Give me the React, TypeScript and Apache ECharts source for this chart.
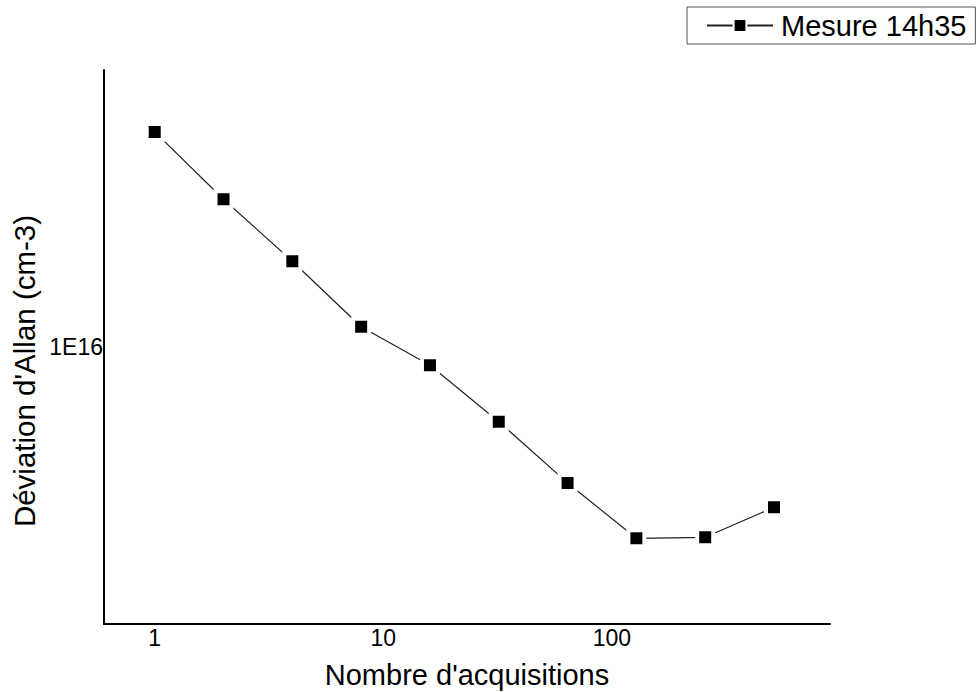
import React, { useEffect, useRef } from "react";
import * as echarts from "echarts";

const acquisitions = [1, 2, 4, 8, 16, 32, 64, 128, 256, 512];
const allanDeviation = [3.49e16, 2.36e16, 1.646e16, 1.125e16, 8.99e15, 6.48e15, 4.54e15, 3.29e15, 3.31e15, 3.94e15];
const seriesName = "Mesure 14h35";
const xTitle = "Nombre d'acquisitions";
const yTitle = "Déviation d'Allan (cm-3)";

const FONT = "'Liberation Sans', Arial, sans-serif";

function isPow10(v: number) {
  const l = Math.log10(v);
  return Math.abs(l - Math.round(l)) < 1e-6;
}

export default function App() {
  const ref = useRef<HTMLDivElement>(null);
  useEffect(() => {
    if (!ref.current) return;
    const chart = echarts.init(ref.current, undefined, { renderer: "svg" });
    chart.setOption({
      animation: false,
      backgroundColor: "#fff",
      textStyle: { fontFamily: FONT, color: "#000" },
      grid: { left: 104, right: 148, top: 70, bottom: 68 },
      legend: {
        left: 687,
        top: 7,
        orient: "horizontal",
        borderColor: "#555",
        borderWidth: 1,
        padding: [4, 9, 4, 19],
        itemWidth: 66,
        itemHeight: 16,
        itemStyle: { borderColor: "#fff", borderWidth: 2 },
        textStyle: { fontFamily: FONT, fontSize: 29, color: "#000", padding: [0, 0, 0, 3] },
        data: [seriesName],
      },
      xAxis: {
        type: "log",
        logBase: 10,
        min: 0.6,
        max: 900,
        axisLine: { show: true, lineStyle: { color: "#000", width: 2 } },
        axisTick: { show: false },
        minorTick: { show: false },
        splitLine: { show: false },
        axisLabel: {
          fontFamily: FONT,
          fontSize: 23,
          color: "#000",
          margin: 2,
          showMinLabel: false,
          showMaxLabel: false,
          formatter: (v: number) => (isPow10(v) ? String(Math.round(v)) : ""),
        },
      },
      yAxis: {
        type: "log",
        logBase: 10,
        min: 2e15,
        max: 5e16,
        axisLine: { show: true, lineStyle: { color: "#000", width: 2 } },
        axisTick: { show: false },
        minorTick: { show: false },
        splitLine: { show: false },
        axisLabel: {
          fontFamily: FONT,
          fontSize: 23,
          color: "#000",
          margin: 1,
          showMinLabel: false,
          showMaxLabel: false,
          formatter: (v: number) => (isPow10(v) ? "1E" + Math.round(Math.log10(v)) : ""),
        },
      },
      graphic: [
        {
          type: "text",
          x: 467,
          y: 675,
          style: {
            text: xTitle,
            font: `29px ${FONT}`,
            fill: "#000",
            align: "center",
            verticalAlign: "middle",
          },
        },
        {
          type: "text",
          x: 24,
          y: 371,
          rotation: Math.PI / 2,
          style: {
            text: yTitle,
            font: `29.5px ${FONT}`,
            fill: "#000",
            align: "center",
            verticalAlign: "middle",
          },
        },
      ],
      series: [
        {
          name: seriesName,
          type: "line",
          data: acquisitions.map((x, i) => [x, allanDeviation[i]]),
          symbol: "rect",
          symbolSize: 16,
          itemStyle: { color: "#000", borderColor: "#fff", borderWidth: 4 },
          lineStyle: { color: "#222", width: 1.2 },
        },
      ],
    });
    return () => chart.dispose();
  }, []);
  return <div ref={ref} style={{ position: "fixed", left: 0, top: 0, width: 978, height: 692 }} />;
}
